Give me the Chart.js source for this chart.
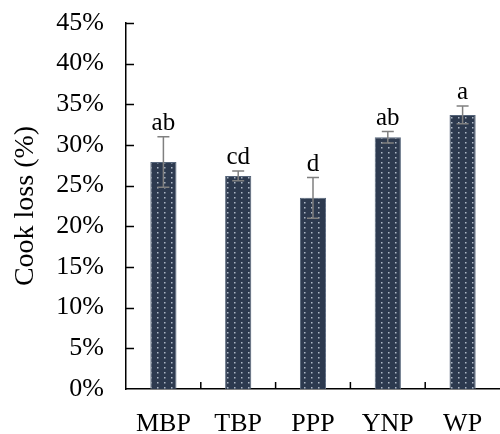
<!DOCTYPE html>
<html>
<head>
<meta charset="utf-8">
<script src="https://cdn.jsdelivr.net/npm/chart.js@4"></script>
<style>
  html, body { margin: 0; padding: 0; background: #fff; }
  #wrap { width: 500px; height: 434px; }
</style>
</head>
<body>
<div id="wrap"><canvas id="cookLossChart"></canvas></div>
<script>
const categories = ['MBP', 'TBP', 'PPP', 'YNP', 'WP'];
const cookLoss = [27.9, 26.2, 23.5, 30.95, 33.7];
const cookLossSd = [3.1, 0.6, 2.5, 0.7, 1.1];
const sigLetters = ['ab', 'cd', 'd', 'ab', 'a'];
const yTicks = [0, 5, 10, 15, 20, 25, 30, 35, 40, 45];

const serif = "'Liberation Serif', 'Times New Roman', serif";

// dotted fill like the original
function dotPattern() {
    const c = document.createElement('canvas');
    c.width = 7;
    c.height = 5;
    const g = c.getContext('2d');
    g.fillStyle = '#2d3a4f';
    g.fillRect(0, 0, 7, 5);
    g.fillStyle = '#aeb8c6';
    g.fillRect(3, 2, 1.5, 1.5);
    return g.createPattern(c, 'repeat');
}

const extras = {
    id: 'extras',
    afterDatasetsDraw(chart) {
        const ctx = chart.ctx;
        const x = chart.scales.x;
        const y = chart.scales.y;
        const meta = chart.getDatasetMeta(0);

        ctx.save();
        // error bars + letters
        meta.data.forEach((bar, i) => {
            const hi = y.getPixelForValue(cookLoss[i] + cookLossSd[i]);
            const lo = y.getPixelForValue(cookLoss[i] - cookLossSd[i]);
            ctx.strokeStyle = '#808080';
            ctx.lineWidth = 1.5;
            ctx.beginPath();
            ctx.moveTo(bar.x, hi);
            ctx.lineTo(bar.x, lo);
            ctx.moveTo(bar.x - 6, hi);
            ctx.lineTo(bar.x + 6, hi);
            ctx.moveTo(bar.x - 6, lo);
            ctx.lineTo(bar.x + 6, lo);
            ctx.stroke();

            ctx.fillStyle = '#000';
            ctx.font = '25px ' + serif;
            ctx.textAlign = 'center';
            ctx.textBaseline = 'alphabetic';
            ctx.fillText(sigLetters[i], bar.x, hi - 7);
        });

        // inward tick marks
        ctx.strokeStyle = '#000';
        ctx.lineWidth = 1.5;
        ctx.beginPath();
        yTicks.forEach(v => {
            if (v === 0) return;
            const py = Math.round(y.getPixelForValue(v)) + 0.5;
            ctx.moveTo(x.left, py);
            ctx.lineTo(x.left + 8, py);
        });
        for (let i = 1; i < categories.length; i++) {
            const px = (x.getPixelForValue(i - 1) + x.getPixelForValue(i)) / 2;
            ctx.moveTo(px, y.bottom);
            ctx.lineTo(px, y.bottom - 7);
        }
        ctx.stroke();
        ctx.restore();
    }
};

new Chart(document.getElementById('cookLossChart'), {
    type: 'bar',
    data: {
        labels: categories,
        datasets: [{
            data: cookLoss,
            backgroundColor: dotPattern(),
            borderColor: '#56657a',
            borderWidth: 1,
            categoryPercentage: 1,
            barPercentage: 0.35
        }]
    },
    options: {
        responsive: true,
        maintainAspectRatio: false,
        animation: false,
        layout: { padding: { top: 23, right: -4, left: 0, bottom: 0 } },
        plugins: {
            legend: { display: false },
            tooltip: { enabled: false }
        },
        scales: {
            x: {
                grid: { display: false },
                border: { color: '#000', width: 1.5 },
                ticks: {
                    color: '#000',
                    padding: 12,
                    font: { family: serif, size: 26 }
                },
                afterFit: s => { s.height = 45; }
            },
            y: {
                min: 0,
                max: 45,
                grid: { display: false, drawTicks: false },
                border: { color: '#000', width: 1.5 },
                afterBuildTicks: s => { s.ticks = yTicks.map(v => ({ value: v })); },
                ticks: {
                    color: '#000',
                    padding: 22,
                    font: { family: serif, size: 26 },
                    callback: v => v + '%'
                },
                title: {
                    display: true,
                    text: 'Cook loss (%)',
                    color: '#000',
                    padding: { top: 9, bottom: 0 },
                    font: { family: serif, size: 28 }
                },
                afterFit: s => {
                    s.width = 126;
                    s.paddingTop = 0;
                    s.paddingBottom = 0;
                }
            }
        }
    },
    plugins: [extras]
});
</script>
</body>
</html>
